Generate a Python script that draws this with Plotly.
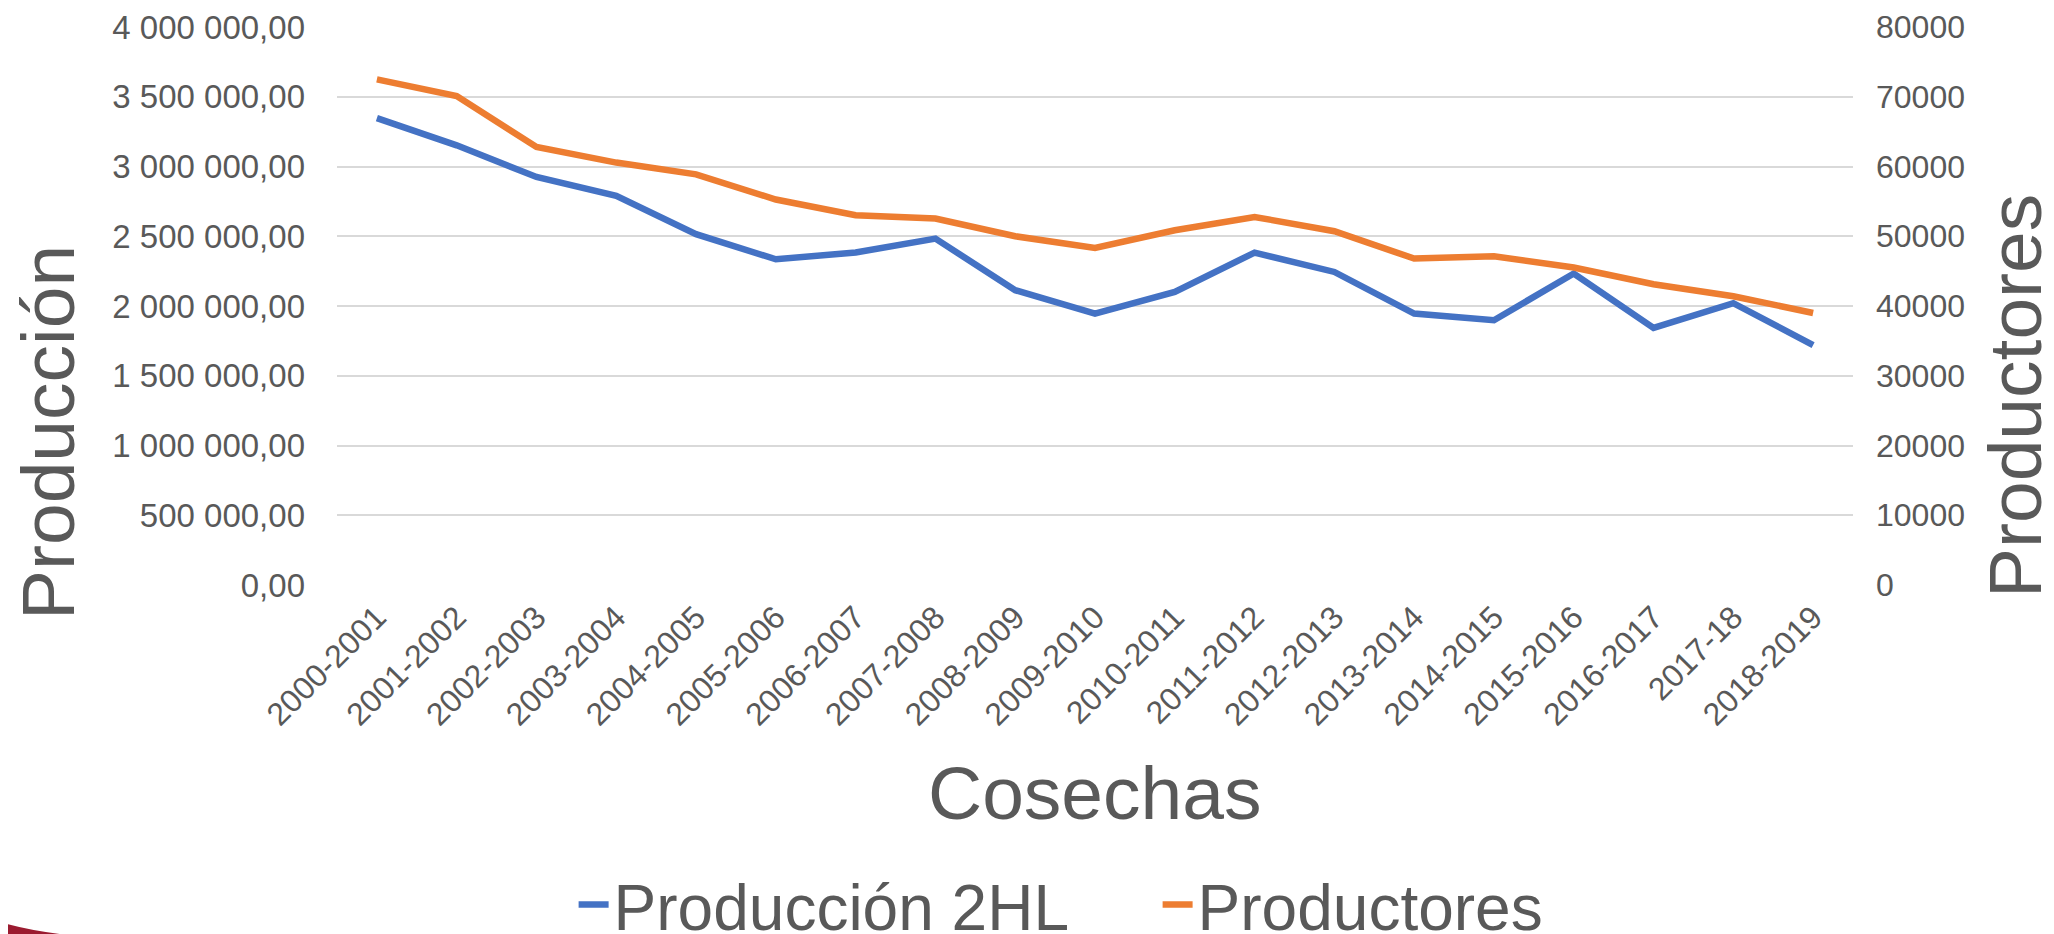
import plotly.graph_objects as go

# cosechas (campañas) y series
cosechas = [
    "2000-2001", "2001-2002", "2002-2003", "2003-2004", "2004-2005",
    "2005-2006", "2006-2007", "2007-2008", "2008-2009", "2009-2010",
    "2010-2011", "2011-2012", "2012-2013", "2013-2014", "2014-2015",
    "2015-2016", "2016-2017", "2017-18", "2018-2019",
]
produccion_2hl = [
    3347000, 3152000, 2925000, 2789000, 2515000,
    2335000, 2383000, 2483000, 2113000, 1946000,
    2101000, 2383000, 2244000, 1946000, 1898000,
    2233000, 1843000, 2020000, 1720000,
]
productores = [
    72490, 70100, 62800, 60560, 58880,
    55260, 53010, 52530, 50000, 48320,
    50860, 52770, 50720, 46800, 47130,
    45510, 43120, 41400, 39000,
]
left_ticks = [0, 500000, 1000000, 1500000, 2000000, 2500000, 3000000, 3500000, 4000000]
right_ticks = [0, 10000, 20000, 30000, 40000, 50000, 60000, 70000, 80000]

BLUE = "#4472C4"
ORANGE = "#ED7D31"
TEXT = "#595959"
GRID = "#D9D9D9"
FONT = "Liberation Sans, Arial, sans-serif"

# the page body has an 8px default margin, so the figure is a bit smaller
BODY = 8

fig = go.Figure()
fig.add_trace(go.Scatter(
    x=cosechas, y=produccion_2hl, name="Producción 2HL",
    mode="lines", line=dict(color=BLUE, width=6.5),
))
fig.add_trace(go.Scatter(
    x=cosechas, y=productores, name="Productores", yaxis="y2",
    mode="lines", line=dict(color=ORANGE, width=6.5),
))

fig.update_layout(
    width=2054 - BODY,
    height=934 - BODY,
    margin=dict(l=337 - BODY, r=201, t=27 - BODY, b=349, autoexpand=False),
    paper_bgcolor="white",
    plot_bgcolor="white",
    separators=", ",
    font=dict(family=FONT, color=TEXT, size=33),
    showlegend=True,
    legend=dict(
        orientation="h",
        x=0.5413, xanchor="center",
        y=-0.5735, yanchor="middle",
        font=dict(size=64, color=TEXT),
        entrywidth=539,
        bgcolor="rgba(0,0,0,0)",
    ),
    xaxis=dict(
        type="category",
        range=[-0.5, len(cosechas) - 0.5],
        tickangle=-45,
        ticks="",
        showgrid=False,
        showline=False,
        zeroline=False,
        ticklabelstandoff=6,
        tickfont=dict(size=32, color=TEXT),
    ),
    yaxis=dict(
        range=[0, 4000000],
        tickvals=left_ticks,
        tickformat=",.2f",
        showgrid=True,
        gridcolor=GRID,
        gridwidth=2,
        zeroline=False,
        showline=False,
        ticks="",
        ticklabelstandoff=31,
        tickfont=dict(size=33, color=TEXT),
    ),
    yaxis2=dict(
        overlaying="y",
        side="right",
        range=[0, 80000],
        tickvals=right_ticks,
        tickformat="d",
        showgrid=False,
        zeroline=False,
        showline=False,
        ticks="",
        ticklabelstandoff=22,
        tickfont=dict(size=32, color=TEXT),
    ),
)

# títulos de ejes
fig.add_annotation(
    text="Producción", xref="paper", yref="paper",
    x=-0.1906, y=0.2724, xanchor="center", yanchor="middle",
    textangle=-90, showarrow=False, font=dict(size=75, color=TEXT),
)
fig.add_annotation(
    text="Productores", xref="paper", yref="paper",
    x=1.1069, y=0.3387, xanchor="center", yanchor="middle",
    textangle=-90, showarrow=False, font=dict(size=75, color=TEXT),
)
fig.add_annotation(
    text="Cosechas", xref="paper", yref="paper",
    x=0.5, y=-0.3728, xanchor="center", yanchor="middle",
    showarrow=False, font=dict(size=75, color=TEXT),
)

# adorno rojo de la diapositiva (esquina inferior izquierda)
fig.add_shape(
    type="path", xref="paper", yref="paper", layer="above",
    path="M -0.2223,-0.6254 L -0.2223,-0.6040 Q -0.205,-0.618 -0.183,-0.6254 Z",
    fillcolor="#9B1B30", line=dict(width=0),
)

fig.write_html("out.html")
